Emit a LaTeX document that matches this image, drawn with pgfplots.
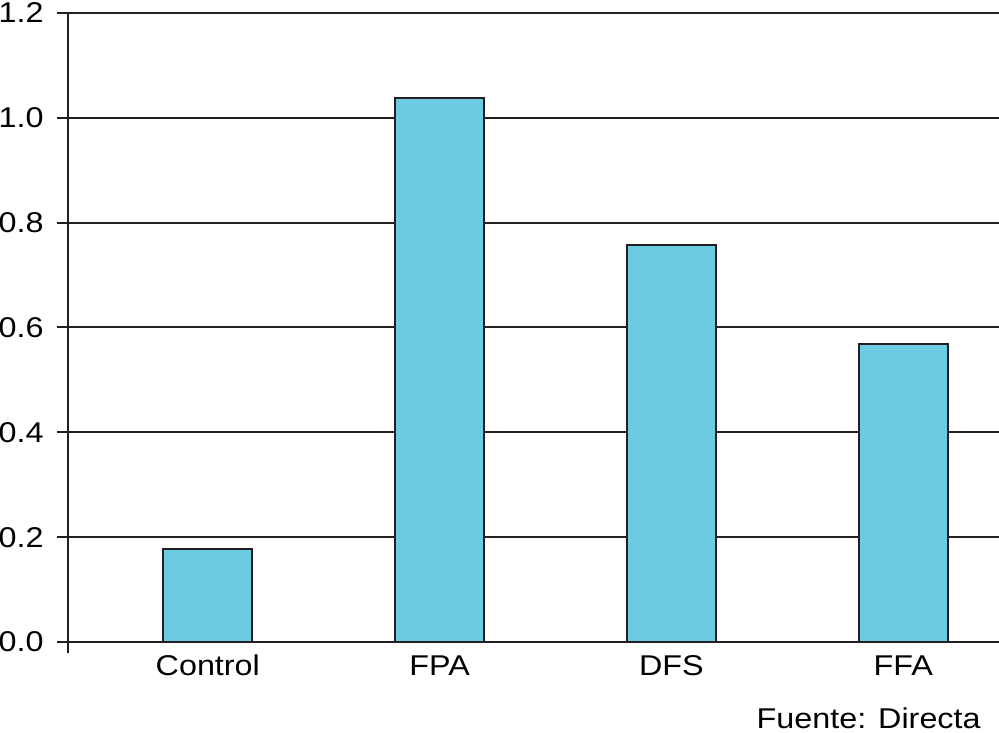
\documentclass[border=0pt]{standalone}
\usepackage{pgfplots}
\pgfplotsset{compat=1.18}
\usepackage{fontspec}
\setmainfont{Liberation Sans}[FakeStretch=1.13]
\definecolor{barblue}{RGB}{108,203,227}
\definecolor{edgec}{RGB}{35,31,32}
\begin{document}
\fontsize{14.3}{17}\selectfont
\begin{tikzpicture}
\useasboundingbox (-34pt,-45pt) rectangle (465.5pt,321pt);
\begin{axis}[
  at={(0,0)}, anchor=south west,
  scale only axis, width=465.5pt, height=314.5pt,
  xmin=-0.603, xmax=3.413, ymin=0, ymax=1.2,
  clip=false,
  axis lines*=left,
  axis line style={edgec, line width=1pt},
  y axis line style={shorten <=-5.5pt},
  ytick={0,0.2,0.4,0.6,0.8,1.0,1.2},
  /pgf/number format/fixed, /pgf/number format/fixed zerofill, /pgf/number format/precision=1,
  /pgf/number format/assume math mode=true,
  xtick={0,1,2,3}, xticklabels={Control,FPA,DFS,FFA},
  ymajorgrids, grid style={edgec, line width=1pt},
  major tick length=5.5pt, tick align=outside,
  xtick style={draw=none},
  ytick style={edgec, line width=1pt},
  yticklabel style={anchor=east, inner sep=0pt, xshift=-6.5pt},
  xticklabel style={anchor=base, inner sep=0pt, yshift=-11pt},
  ybar, bar width=44.5pt,
]
\addplot[fill=barblue, draw=edgec, line width=1pt] coordinates {(0,0.177) (1,1.038) (2,0.757) (3,0.568)};
\node[anchor=base east, inner sep=0pt, xshift=-9pt, yshift=-43.3pt] at (rel axis cs:1,0) {Fuente: Directa};
\end{axis}
\end{tikzpicture}
\end{document}
